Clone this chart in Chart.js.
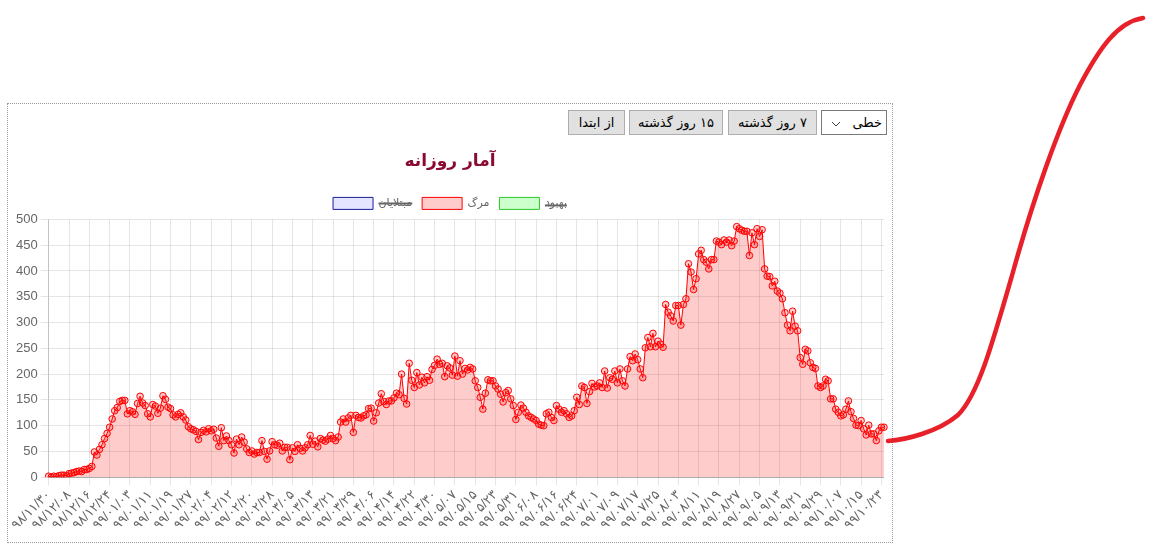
<!DOCTYPE html>
<html>
<head>
<meta charset="utf-8">
<script src="https://cdn.jsdelivr.net/npm/chart.js@4.4.1/dist/chart.umd.min.js"></script>
<style>
  html, body { margin: 0; padding: 0; background: #fff; width: 1162px; height: 548px; overflow: hidden; }
  #box { position: absolute; left: 7px; top: 103px; width: 886px; height: 440px; box-sizing: border-box; border: 1px dotted #9a9a9a; }
  .ctl { position: absolute; top: 110px; height: 25px; box-sizing: border-box; font: 13px 'DejaVu Sans', Tahoma, sans-serif; color: #000; }
  button.ctl { background: #e1e1e1; border: 1px solid #adadad; padding: 0; direction: rtl; }
  select.ctl { -webkit-appearance: none; appearance: none; background: #fff; border: 1px solid #7a7a7a; direction: rtl; padding: 0 4px 0 0;
    background-image: url("data:image/svg+xml;utf8,<svg xmlns='http://www.w3.org/2000/svg' width='10' height='6'><polyline points='1,1 5,5 9,1' fill='none' stroke='%23444' stroke-width='1'/></svg>");
    background-repeat: no-repeat; background-position: 9px 10px; }
  #wrap { position: absolute; left: 8px; top: 138px; width: 889px; height: 402px; }
  #curve { position: absolute; left: 0; top: 0; width: 1162px; height: 548px; pointer-events: none; }
</style>
</head>
<body>
<div id="box"></div>
<select class="ctl" style="left:821px;width:66px;"><option>خطی</option></select>
<button class="ctl" style="left:728px;width:89px;">۷ روز گذشته</button>
<button class="ctl" style="left:629px;width:94px;">۱۵ روز گذشته</button>
<button class="ctl" style="left:568px;width:57px;">از ابتدا</button>
<div id="wrap"><canvas id="c"></canvas></div>
<svg id="curve" viewBox="0 0 1162 548">
  <path d="M888,441 C905,440 938,432 958,415 C978,395 992,345 1013,272 C1033,200 1058,128 1080,85 C1100,47 1118,22 1143,18"
        fill="none" stroke="#e8202a" stroke-width="4.5" stroke-linecap="round"/>
</svg>
<script>
// ---- data ----
const startDate = [98, 11, 30];               // first category (Persian calendar)
const persianMonthLengths = [31,31,31,31,31,31,30,30,30,30,30,29];
const deathValues = [
  2,0,2,1,3,4,4,3,7,8,9,
  11,12,11,15,15,17,21,49,43,54,63,75,85,97,113,129,135,147,149,149,123,129,127,122,143,157,144,139,123,117,141,
  138,124,134,158,151,136,133,121,117,122,125,117,111,98,94,92,89,73,87,91,88,94,90,93,76,60,96,71,80,71,
  63,47,74,63,78,68,55,48,51,45,48,48,71,50,35,51,69,63,62,66,51,58,58,34,57,50,63,56,51,57,63,
  81,64,70,59,75,72,70,74,81,75,71,78,107,113,107,115,120,87,120,116,115,119,121,133,134,109,125,144,162,147,
  141,148,148,154,163,160,200,153,142,221,188,174,203,179,194,183,195,188,209,217,229,219,221,195,216,212,198,235,196,226,200,
  211,208,213,210,187,174,155,132,163,189,187,187,177,171,161,146,164,168,152,139,112,126,140,134,126,119,116,113,110,103,101,
  100,123,126,116,110,139,132,126,129,123,116,119,129,155,141,177,174,143,166,182,175,177,183,174,206,173,193,190,206,183,
  210,187,177,210,234,226,239,228,210,193,251,271,253,279,253,264,258,252,335,320,313,303,333,333,295,335,346,414,398,364,385,
  433,440,422,417,404,422,422,458,456,451,460,456,460,449,458,486,482,479,477,477,430,474,451,482,467,480,404,390,389,371,
  380,361,357,346,319,295,284,322,293,284,232,219,248,245,222,213,211,177,174,177,190,187,152,152,132,126,119,121,132,148,127,
  114,101,100,110,94,82,101,84,84,71,90,97,97
];
const infectedValues = [];   // hidden series
const recoveredValues = [];  // hidden series
const seriesNames = ['مبتلایان', 'مرگ', 'بهبود'];
const chartTitle = 'آمار روزانه';
const yTickMin = 0, yTickMax = 500, yTickStep = 50;
const labelEvery = 8;

// ---- categories (daily Persian dates) ----
const faDigits = '۰۱۲۳۴۵۶۷۸۹';
function toFa(n) { return String(n).padStart(2, '0').replace(/\d/g, d => faDigits[d]); }
function buildDates(start, count) {
  let [y, m, d] = start; const out = [];
  for (let i = 0; i < count; i++) {
    out.push(toFa(y) + '/' + toFa(m) + '/' + toFa(d));
    d++;
    if (d > persianMonthLengths[m - 1]) { d = 1; m++; if (m > 12) { m = 1; y++; } }
  }
  return out;
}
const categories = buildDates(startDate, deathValues.length);

const FONT = "'Liberation Sans', 'DejaVu Sans', Arial, sans-serif";
Chart.defaults.color = '#666';
Chart.defaults.font.family = FONT;
Chart.defaults.font.size = 12;

new Chart(document.getElementById('c'), {
  type: 'line',
  data: {
    labels: categories,
    datasets: [
      { label: seriesNames[0], data: infectedValues, hidden: true,
        backgroundColor: 'rgba(0,0,255,0.1)', borderColor: '#1a1a9a', borderWidth: 1 },
      { label: seriesNames[1], data: deathValues, fill: 'origin', tension: 0,
        backgroundColor: 'rgba(255,0,0,0.2)', borderColor: 'rgb(255,0,0)', borderWidth: 1,
        pointRadius: 3.3, pointBorderWidth: 1, pointBorderColor: 'rgb(255,0,0)',
        pointBackgroundColor: 'rgba(255,0,0,0.2)' },
      { label: seriesNames[2], data: recoveredValues, hidden: true,
        backgroundColor: 'rgba(0,255,0,0.2)', borderColor: 'rgb(40,200,40)', borderWidth: 1 }
    ]
  },
  options: {
    responsive: true, maintainAspectRatio: false, animation: false,
    layout: { padding: { left: 5, right: 10, top: 0, bottom: 5 } },
    plugins: {
      title: { display: true, text: chartTitle, color: '#8a0b31',
               font: { family: "'DejaVu Sans', sans-serif", size: 17, weight: 'bold' },
               padding: { top: 13, bottom: 16 } },
      legend: { labels: { boxWidth: 40, boxHeight: 12, color: '#666', font: { size: 11 } } },
      tooltip: { enabled: false }
    },
    scales: {
      x: {
        grid: { color: ctx => (ctx.index % labelEvery === 0 ? 'rgba(0,0,0,0.1)' : 'rgba(0,0,0,0)'), tickLength: 8 },
        border: { color: 'rgba(0,0,0,0.25)' },
        ticks: { autoSkip: false, maxRotation: 45, minRotation: 45, padding: 2, font: { size: 13 },
                 callback: function (v, i) { return i % labelEvery === 0 ? this.getLabelForValue(v) : ''; } }
      },
      y: {
        min: yTickMin, max: yTickMax,
        grid: { color: 'rgba(0,0,0,0.1)', tickLength: 8 },
        border: { color: 'rgba(0,0,0,0.15)' },
        ticks: { stepSize: yTickStep, padding: 3, font: { size: 13 } }
      }
    }
  }
});
</script>
</body>
</html>
